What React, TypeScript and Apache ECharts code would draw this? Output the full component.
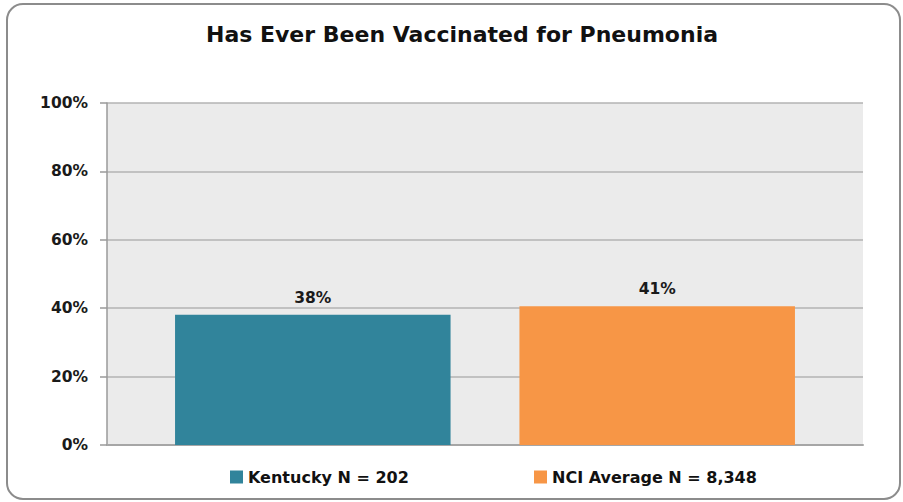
import React, { useEffect, useRef } from "react";
import * as echarts from "echarts";

const title = "Has Ever Been Vaccinated for Pneumonia";
const categories = ["Has Ever Been Vaccinated for Pneumonia"];
const seriesNames = ["Kentucky N = 202", "NCI Average N = 8,348"];
const kentuckyValues = [38.1];
const nciValues = [40.6];
const yTicks = [0, 20, 40, 60, 80, 100];
const colors = ["#31849b", "#f79646"];

const FONT = "'DejaVu Sans', 'Open Sans', sans-serif";

export default function App() {
  const ref = useRef<HTMLDivElement>(null);
  useEffect(() => {
    if (!ref.current) return;
    const chart = echarts.init(ref.current, null, { renderer: "svg" });
    const labelStyle = {
      show: true,
      position: "top" as const,
      distance: 9,
      fontFamily: FONT,
      fontWeight: "bold" as const,
      fontSize: 15.5,
      color: "#1a1a1a",
      formatter: (p: any) => Math.round(p.value) + "%",
    };
    const legendText = { fontFamily: FONT, fontWeight: "bold" as const, fontSize: 16, color: "#111" };
    chart.setOption({
      animation: false,
      backgroundColor: "#ffffff",
      title: {
        text: title,
        left: 457,
        textAlign: "center",
        top: 18,
        textStyle: { fontFamily: FONT, fontWeight: "bold", fontSize: 22, color: "#111" },
      },
      legend: [
        {
          data: [seriesNames[0]],
          left: 225,
          top: 464,
          itemWidth: 13,
          itemHeight: 13,
          itemGap: 6,
          icon: "rect",
          textStyle: legendText,
        },
        {
          data: [seriesNames[1]],
          left: 529,
          top: 464,
          itemWidth: 13,
          itemHeight: 13,
          icon: "rect",
          textStyle: legendText,
        },
      ],
      grid: { left: 107, right: 40, top: 103, bottom: 57, show: true, backgroundColor: "#ebebeb", borderWidth: 0 },
      xAxis: {
        type: "category",
        data: categories,
        axisLabel: { show: false },
        axisTick: { show: false },
        axisLine: { show: true, lineStyle: { color: "#a6a6a6", width: 2 } },
      },
      yAxis: {
        type: "value",
        min: yTicks[0],
        max: yTicks[yTicks.length - 1],
        interval: 20,
        axisLine: { show: true, lineStyle: { color: "#9a9a9a", width: 1.5 } },
        axisTick: { show: true, length: 7, lineStyle: { color: "#9a9a9a", width: 1.5 } },
        splitLine: { show: true, lineStyle: { color: "#b3b3b3", width: 1.5 } },
        axisLabel: {
          formatter: "{value}%",
          margin: 19,
          fontFamily: FONT,
          fontWeight: "bold",
          fontSize: 15.5,
          color: "#1a1a1a",
        },
      },
      series: [
        {
          name: seriesNames[0],
          type: "bar",
          data: kentuckyValues,
          itemStyle: { color: colors[0] },
          barGap: "25%",
          barCategoryGap: "18%",
          label: labelStyle,
        },
        {
          name: seriesNames[1],
          type: "bar",
          data: nciValues,
          itemStyle: { color: colors[1] },
          barGap: "25%",
          barCategoryGap: "18%",
          label: labelStyle,
        },
      ],
      graphic: [
        {
          type: "rect",
          shape: { x: 7, y: 4, width: 893, height: 495, r: 16 },
          style: { fill: "none", stroke: "#8c8c8c", lineWidth: 2 },
          silent: true,
          z: 100,
        },
      ],
    });
    return () => chart.dispose();
  }, []);
  return (
    <div
      ref={ref}
      style={{ position: "fixed", left: 0, top: 0, width: 903, height: 502 }}
    />
  );
}
